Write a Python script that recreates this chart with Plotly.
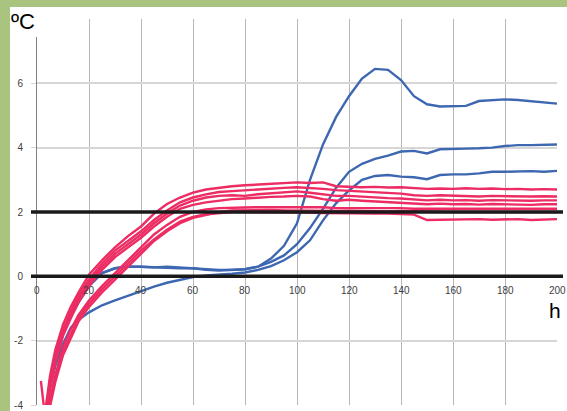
import plotly.graph_objects as go

# ---- data ----
h = [3, 5, 7, 10, 13, 16, 20, 25, 30, 35, 40, 45, 50, 55, 60, 65, 70, 75, 80, 85, 90,
     95, 100, 105, 110, 115, 120, 125, 130, 135, 140, 145, 150, 155, 160, 165, 170,
     175, 180, 185, 190, 195, 200]

h_hook = [1.5, 2.5]
r1_hook = [-3.25, -3.9]

red_series = [
    [-4.3, -3.1, -2.3, -1.5, -0.95, -0.5, 0.05, 0.5, 0.9, 1.25, 1.55, 1.95, 2.25, 2.45, 2.6, 2.7, 2.76, 2.8, 2.83, 2.85, 2.87,
     2.9, 2.92, 2.9, 2.92, 2.8, 2.78, 2.77, 2.78, 2.76, 2.77, 2.75, 2.72, 2.73, 2.72, 2.74, 2.72, 2.73, 2.71, 2.72, 2.7, 2.71, 2.7],
    [-4.4, -3.3, -2.5, -1.65, -1.1, -0.6, -0.1, 0.4, 0.8, 1.1, 1.4, 1.75, 2.05, 2.3, 2.45, 2.55, 2.62, 2.65, 2.68, 2.7, 2.73,
     2.75, 2.77, 2.75, 2.72, 2.68, 2.66, 2.62, 2.6, 2.58, 2.57, 2.52, 2.5, 2.52, 2.5, 2.5, 2.48, 2.5, 2.49, 2.5, 2.48, 2.49, 2.48],
    [-4.5, -3.4, -2.6, -1.75, -1.2, -0.7, -0.2, 0.3, 0.7, 1.0, 1.3, 1.65, 1.95, 2.2, 2.35, 2.45, 2.5, 2.52, 2.5, 2.55, 2.58,
     2.6, 2.64, 2.6, 2.55, 2.5, 2.5, 2.47, 2.45, 2.43, 2.42, 2.38, 2.36, 2.38, 2.36, 2.37, 2.35, 2.37, 2.36, 2.36, 2.35, 2.36, 2.36],
    [-4.5, -3.5, -2.7, -1.85, -1.3, -0.8, -0.3, 0.2, 0.6, 0.9, 1.2, 1.55, 1.85, 2.1, 2.22, 2.3, 2.36, 2.4, 2.42, 2.45, 2.47,
     2.48, 2.5, 2.48, 2.4, 2.35, 2.38, 2.35, 2.33, 2.3, 2.3, 2.27, 2.24, 2.26, 2.24, 2.25, 2.23, 2.25, 2.24, 2.24, 2.22, 2.24, 2.24],
    [-4.6, -3.8, -3.1, -2.2, -1.65, -1.2, -0.75, -0.3, 0.1, 0.5, 0.9, 1.3, 1.6, 1.85, 2.0, 2.08, 2.12, 2.14, 2.14, 2.15, 2.15,
     2.16, 2.15, 2.14, 2.15, 2.12, 2.12, 2.13, 2.12, 2.12, 2.12, 2.1, 2.1, 2.1, 2.1, 2.11, 2.1, 2.1, 2.1, 2.1, 2.1, 2.1, 2.1],
    [-4.7, -3.9, -3.2, -2.35, -1.8, -1.3, -0.85, -0.4, 0.0, 0.4, 0.8, 1.15, 1.45, 1.7, 1.85, 1.93, 1.97, 2.0, 2.0, 2.0, 2.0,
     2.0, 1.98, 1.98, 1.97, 1.96, 1.96, 1.95, 1.95, 1.95, 1.94, 1.92, 1.75, 1.76, 1.75, 1.76, 1.78, 1.76, 1.76, 1.78, 1.75, 1.76, 1.78],
    [-4.8, -4.0, -3.3, -2.45, -1.9, -1.4, -0.95, -0.5, -0.1, 0.3, 0.7, 1.1, 1.4, 1.65, 1.82, 1.92, 2.0, 2.05, 2.06, 2.05, 2.06,
     2.05, 2.04, 2.05, 2.04, 2.03, 2.04, 2.03, 2.03, 2.02, 2.03, 2.02, 2.0, 2.0, 2.0, 2.0, 2.0, 2.0, 2.0, 2.0, 2.0, 2.0, 2.0],
]

blue_series = [
    [-4.5, -3.4, -2.6, -1.8, -1.25, -0.8, -0.3, 0.1, 0.25, 0.3, 0.3, 0.28, 0.3, 0.27, 0.25, 0.22, 0.2, 0.2, 0.22, 0.3, 0.55,
     0.95, 1.65, 3.0, 4.1, 4.95, 5.6, 6.15, 6.45, 6.42, 6.1, 5.6, 5.35, 5.28, 5.28, 5.3, 5.45, 5.47, 5.5, 5.48, 5.45, 5.4, 5.37],
    [-4.5, -3.4, -2.6, -1.8, -1.25, -0.8, -0.3, 0.1, 0.25, 0.3, 0.3, 0.28, 0.28, 0.25, 0.25, 0.2, 0.18, 0.2, 0.22, 0.3, 0.45,
     0.65, 1.0, 1.5, 2.1, 2.75, 3.25, 3.5, 3.65, 3.75, 3.88, 3.9, 3.82, 3.95, 3.97, 3.97, 3.98, 4.0, 4.05, 4.08, 4.08, 4.1, 4.1],
    [-4.6, -3.5, -2.8, -2.1, -1.6, -1.35, -1.12, -0.9, -0.75, -0.6, -0.45, -0.32, -0.2, -0.1, -0.02, 0.03, 0.05, 0.08, 0.12, 0.2, 0.32,
     0.5, 0.75, 1.12, 1.74, 2.27, 2.67, 3.0, 3.12, 3.15, 3.1, 3.08, 3.02, 3.15, 3.17, 3.17, 3.2, 3.25, 3.25, 3.26, 3.27, 3.25, 3.28],
]

x_ticks = [0, 20, 40, 60, 80, 100, 120, 140, 160, 180, 200]
y_ticks = [-4, -2, 0, 2, 4, 6, 8]
y_ticktext = ["-4", "-2", "0", "2", "4", "6", ""]
ref_lines = [0, 2]

BLUE = "#3e67b1"
RED = "#ec2c63"

fig = go.Figure()
for ys in blue_series:
    fig.add_trace(go.Scatter(x=h, y=ys, mode="lines", line=dict(color=BLUE, width=2.4),
                             showlegend=False, hoverinfo="skip"))
for i, ys in enumerate(red_series):
    xs = (h_hook + h) if i == 0 else h
    yv = (r1_hook + ys) if i == 0 else ys
    fig.add_trace(go.Scatter(x=xs, y=yv, mode="lines", line=dict(color=RED, width=2.4),
                             showlegend=False, hoverinfo="skip"))

W, H = 567, 411
# plot area in page pixels: x 37..557, y 19..405
L, R, T, B = 37, 567 - 557, 19, 411 - 405
pw, ph = W - L - R, H - T - B

def px_x(p):
    return (p - L) / pw

def px_y(p):
    return (H - B - p) / ph

shapes = [
    # white card over green frame
    dict(type="rect", xref="paper", yref="paper", x0=px_x(10), x1=px_x(580),
         y0=px_y(430), y1=px_y(7), fillcolor="white", line=dict(width=0), layer="below"),
    # white cover for the corner label
    dict(type="rect", xref="paper", yref="paper", x0=px_x(10), x1=px_x(52),
         y0=px_y(37), y1=px_y(7), fillcolor="white", line=dict(width=0), layer="above"),
    # white cover behind the "h" label
    dict(type="rect", xref="paper", yref="paper", x0=px_x(548), x1=px_x(563),
         y0=px_y(322), y1=px_y(300), fillcolor="white", line=dict(width=0), layer="above"),
]
for v in ref_lines:
    shapes.append(dict(type="line", xref="paper", yref="y", x0=px_x(31), x1=px_x(563),
                       y0=v, y1=v, line=dict(color="#1a1a1a", width=3.5), layer="above"))

annotations = []
for xv in x_ticks:
    annotations.append(dict(x=xv, y=0, xref="x", yref="y", text=str(xv), showarrow=False,
                            xanchor="center", yanchor="middle", yshift=-14,
                            font=dict(size=10, color="#404040", family="Liberation Sans")))
annotations.append(dict(x=px_x(23), y=px_y(21), xref="paper", yref="paper", text="ºC",
                        showarrow=False, xanchor="center", yanchor="middle",
                        font=dict(size=22, color="#000000", family="Liberation Sans")))
annotations.append(dict(x=px_x(555), y=px_y(310), xref="paper", yref="paper", text="h",
                        showarrow=False, xanchor="center", yanchor="middle",
                        font=dict(size=21, color="#000000", family="Liberation Sans")))

fig.update_layout(
    width=W, height=H,
    margin=dict(l=L, r=R, t=T, b=B, autoexpand=False),
    paper_bgcolor="#a9c47f",
    plot_bgcolor="white",
    shapes=shapes,
    annotations=annotations,
    xaxis=dict(range=[0, 200], tickvals=x_ticks, showticklabels=False, showgrid=True,
               gridcolor="#b8b8b8", gridwidth=1.3, zeroline=False, showline=False,
               automargin=False),
    yaxis=dict(range=[-4, 8], tickvals=y_ticks, ticktext=y_ticktext, showgrid=True,
               gridcolor="#d6d6d6", gridwidth=2, zeroline=False, showline=True,
               linecolor="#808080", linewidth=1, ticks="outside", ticklen=5,
               tickcolor="#d6d6d6", ticklabelstandoff=6, automargin=False,
               tickfont=dict(size=10, color="#404040", family="Liberation Sans")),
)

fig.write_html("out.html", config={"displayModeBar": False},
               post_script="document.body.style.margin='0';document.body.style.overflow='hidden';")
